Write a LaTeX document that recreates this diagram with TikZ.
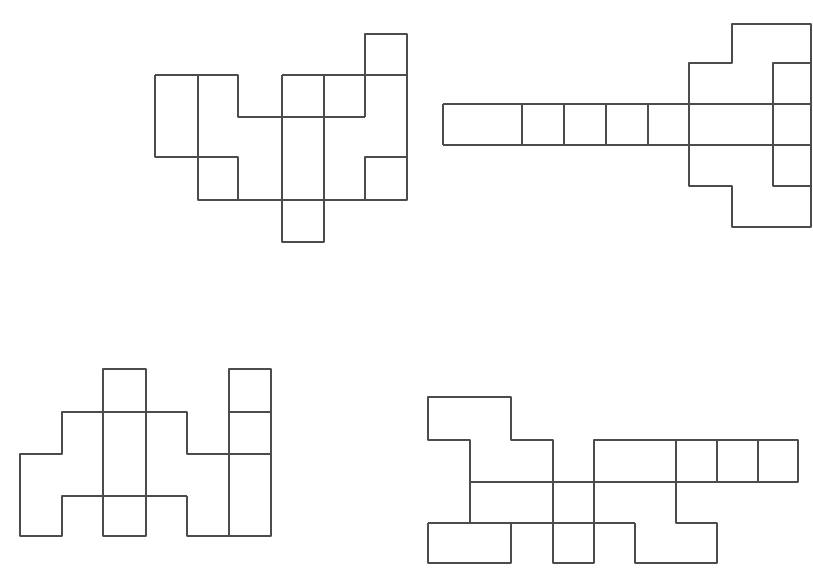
\documentclass[tikz,border=0pt]{standalone}

\begin{document}
\begin{tikzpicture}[x=0.025cm,y=-0.025cm]
  \tikzset{pen/.style={draw=black!70,line width=0.9pt,line join=round}}
  \useasboundingbox (0,0) rectangle (813,572);
  % top left net
  \draw[pen] (155,75) -- (238,75) -- (238,117) -- (365,117);
  \draw[pen] (282,75) -- (407,75);
  \draw[pen] (365,117) -- (365,34) -- (407,34) -- (407,200) -- (198,200) -- (198,75);
  \draw[pen] (155,75) -- (155,157) -- (238,157) -- (238,200);
  \draw[pen] (282,75) -- (282,242) -- (324,242) -- (324,75);
  \draw[pen] (365,200) -- (365,157) -- (407,157);
  % top right net
  \draw[pen] (443,104) -- (811,104);
  \draw[pen] (443,145) -- (811,145);
  \foreach \x in {443,522,564,606,648}
    \draw[pen] (\x,104) -- (\x,145);
  \draw[pen] (689,186) -- (689,63) -- (732,63) -- (732,24) -- (811,24) -- (811,227)
    -- (732,227) -- (732,186) -- cycle;
  \draw[pen] (811,63) -- (773,63) -- (773,186) -- (811,186);
  % bottom left net
  \draw[pen] (103,369) rectangle (146,536);
  \draw[pen] (187,496) -- (62,496) -- (62,536) -- (20,536) -- (20,454) -- (62,454)
    -- (62,412) -- (187,412) -- (187,454) -- (271,454);
  \draw[pen] (187,496) -- (187,536) -- (271,536) -- (271,369) -- (229,369) -- (229,536);
  \draw[pen] (229,412) -- (271,412);
  % bottom right net
  \draw[pen] (470,523) -- (470,440) -- (428,440) -- (428,397) -- (511,397) -- (511,440)
    -- (553,440) -- (553,563) -- (594,563) -- (594,440) -- (798,440) -- (798,482) -- (470,482);
  \foreach \x in {717,758}
    \draw[pen] (\x,440) -- (\x,482);
  \draw[pen] (676,440) -- (676,523) -- (717,523) -- (717,563) -- (635,563) -- (635,523);
  \draw[pen] (428,523) -- (635,523);
  \draw[pen] (428,523) -- (428,563) -- (511,563) -- (511,523);
\end{tikzpicture}
\end{document}
